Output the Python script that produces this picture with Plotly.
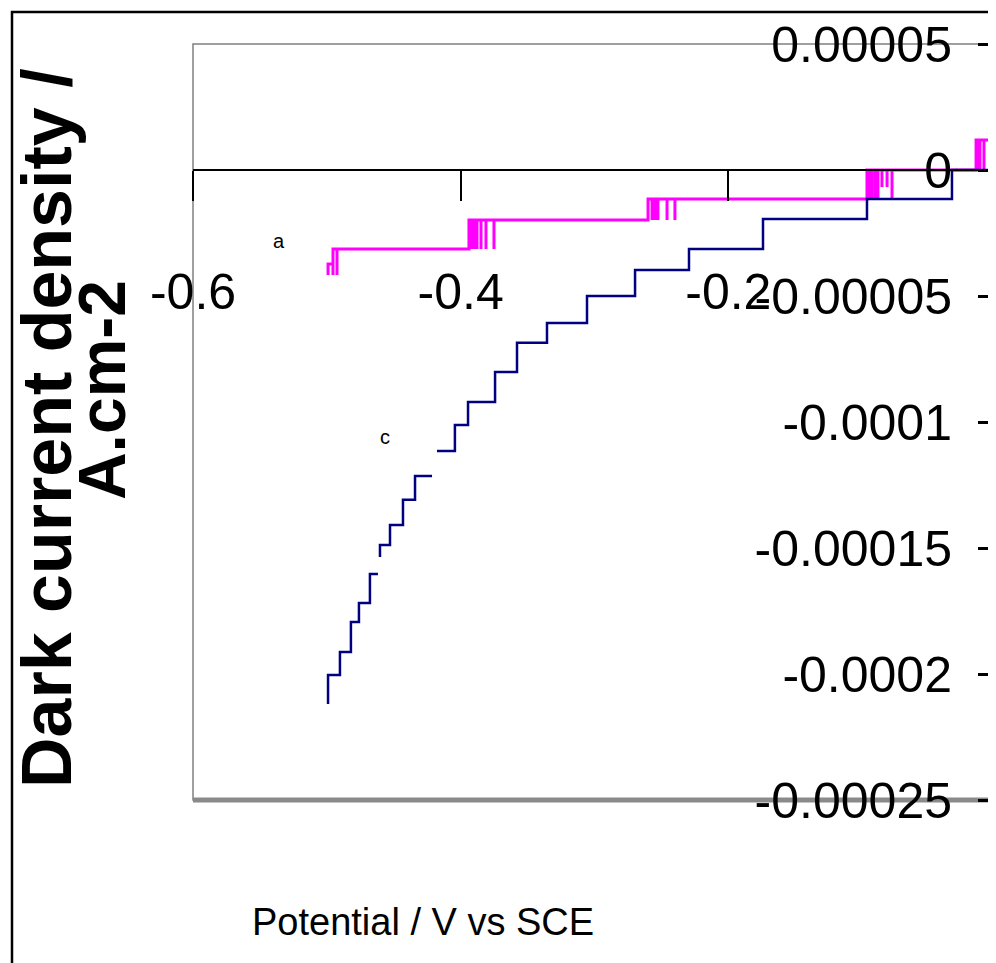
import plotly.graph_objects as go

# ---------------- data ----------------
# series "a" (magenta): potential (V vs SCE) and dark current density (A cm-2)
a_potential = [-0.4991, -0.4991, -0.4954, -0.4954, -0.4924, -0.4924,
               -0.3938, -0.3923, -0.3923, -0.3908, -0.3908, -0.3893, -0.3893,
               -0.3878, -0.3878, -0.3848, -0.3848, -0.3811, -0.3811, -0.3751, -0.3751,
               -0.2600, -0.2570, -0.2570, -0.2548, -0.2548, -0.2526, -0.2526,
               -0.2458, -0.2458, -0.2399, -0.2399,
               -0.0964, -0.0949, -0.0949, -0.0927, -0.0927, -0.0904, -0.0904,
               -0.0882, -0.0882, -0.0852, -0.0852, -0.0814, -0.0814, -0.0777, -0.0777,
               -0.0149, -0.0134, -0.0134, -0.0120, -0.0120, -0.0090, -0.0090, 0.0105]
a_current = [-4.17e-5, -3.73e-5, -4.17e-5, -3.13e-5, -4.17e-5, -3.13e-5,
             -1.98e-5, -3.13e-5, -1.98e-5, -3.13e-5, -1.98e-5, -3.13e-5, -1.98e-5,
             -3.13e-5, -1.98e-5, -3.13e-5, -1.98e-5, -3.13e-5, -1.98e-5, -3.13e-5, -1.98e-5,
             -1.15e-5, -1.98e-5, -1.15e-5, -1.98e-5, -1.15e-5, -1.98e-5, -1.15e-5,
             -1.98e-5, -1.15e-5, -1.98e-5, -1.15e-5,
             0.0, -1.15e-5, 0.0, -1.15e-5, 0.0, -1.15e-5, 0.0,
             -1.15e-5, 0.0, -0.67e-5, 0.0, -0.67e-5, 0.0, -1.15e-5, 0.0,
             1.19e-5, 0.0, 1.19e-5, 0.0, 1.19e-5, 0.0, 1.19e-5, 1.19e-5]

# series "c" (navy)
c_potential = [-0.4991, -0.4991, -0.4902, -0.4820, -0.4760, -0.4678, -0.4618, None,
               -0.4603, -0.4603, -0.4528, -0.4431, -0.4341, -0.4214, None,
               -0.4177, -0.4043, -0.3945, -0.3743, -0.3579, -0.3355, -0.3056,
               -0.2697, -0.2294, -0.1741, -0.0964, -0.0329, 0.0105]
c_current = [-2.119e-4, -2.004e-4, -1.913e-4, -1.794e-4, -1.718e-4, -1.603e-4, -1.603e-4, None,
             -1.536e-4, -1.488e-4, -1.409e-4, -1.309e-4, -1.214e-4, -1.214e-4, None,
             -1.115e-4, -1.012e-4, -0.921e-4, -0.802e-4, -0.686e-4, -0.607e-4, -0.500e-4,
             -0.397e-4, -0.313e-4, -0.194e-4, -0.115e-4, 0.0, 0.0]

x_tickvals = [-0.6, -0.4, -0.2, 0]
x_ticktext = ["-0.6", "-0.4", "-0.2", "0"]
y_tickvals = [0.00005, 0, -0.00005, -0.0001, -0.00015, -0.0002, -0.00025]
y_ticktext = ["0.00005", "0", "-0.00005", "-0.0001", "-0.00015", "-0.0002", "-0.00025"]

SANS = "Liberation Sans, Arial, sans-serif"

fig = go.Figure()
fig.add_trace(go.Scatter(x=a_potential, y=a_current, mode="lines",
                         line=dict(color="#FF00FF", width=3, shape="hv"),
                         connectgaps=False, showlegend=False))
fig.add_trace(go.Scatter(x=c_potential, y=c_current, mode="lines",
                         line=dict(color="#000080", width=2.5, shape="hv"),
                         connectgaps=False, showlegend=False))

fig.update_layout(
    width=988, height=955,
    margin=dict(l=185, r=0, t=36, b=163, autoexpand=False),
    paper_bgcolor="white", plot_bgcolor="white",
    showlegend=False,
    xaxis=dict(range=[-0.6, 0], anchor="free", position=0.8333,
               showgrid=False, zeroline=False,
               showline=True, linecolor="black", linewidth=1.5,
               ticks="outside", ticklen=30, tickwidth=1.5, tickcolor="black",
               tickvals=x_tickvals, ticktext=x_ticktext,
               ticklabelstandoff=48,
               tickfont=dict(family=SANS, size=50, color="black"),
               automargin=False),
    yaxis=dict(range=[-0.00025, 0.00005], anchor="free", position=1, side="left",
               showgrid=False, zeroline=False, showline=False,
               ticks="outside", ticklen=18, tickwidth=3, tickcolor="black",
               tickvals=y_tickvals, ticktext=y_ticktext,
               ticklabelstandoff=16,
               tickfont=dict(family=SANS, size=50, color="black"),
               automargin=False),
)

# outer chart frame
fig.add_shape(type="rect", xref="paper", yref="paper",
              x0=-0.2254, y0=-0.3, x1=1.1, y1=1.0423,
              line=dict(color="black", width=2.5), layer="below")
# plot-area border
fig.add_shape(type="rect", xref="paper", yref="paper", x0=0, y0=0, x1=1.05, y1=1,
              line=dict(color="#808080", width=1.5), layer="below")
fig.add_shape(type="line", xref="paper", yref="paper", x0=0, y0=0, x1=1.05, y1=0,
              line=dict(color="#8a8a8a", width=5), layer="below")

# axis titles
fig.add_annotation(text="Potential / V vs SCE", xref="paper", yref="paper",
                   x=0.2864, y=-0.1614, showarrow=False, xanchor="center", yanchor="middle",
                   font=dict(family=SANS, size=38, color="black"))
fig.add_annotation(text="<b>Dark current density /</b>", xref="paper", yref="paper",
                   x=-0.1818, y=0.492, showarrow=False, textangle=-90,
                   xanchor="center", yanchor="middle",
                   font=dict(family=SANS, size=70, color="black"))
fig.add_annotation(text="<b>A.cm-2</b>", xref="paper", yref="paper",
                   x=-0.1133, y=0.5423, showarrow=False, textangle=-90,
                   xanchor="center", yanchor="middle",
                   font=dict(family=SANS, size=66, color="black"))

# curve labels
fig.add_annotation(text="a", xref="paper", yref="paper", x=0.0975, y=0.756,
                   showarrow=False, font=dict(family=SANS, size=20, color="black"))
fig.add_annotation(text="c", xref="paper", yref="paper", x=0.2305, y=0.480,
                   showarrow=False, font=dict(family=SANS, size=20, color="black"))

fig.write_html("out.html")
